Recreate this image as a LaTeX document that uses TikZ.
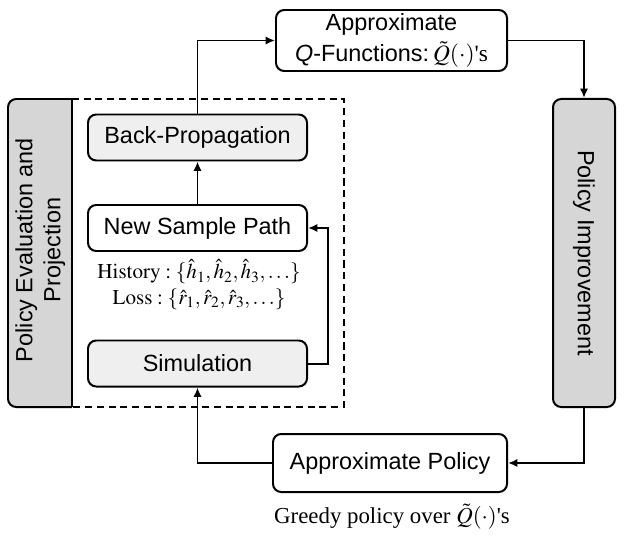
\documentclass[tikz,border=0pt]{standalone}
\usepackage{mathptmx}
\usepackage[no-math]{fontspec}
\setmainfont{Liberation Sans}
\newfontfamily\seriffont{Liberation Serif}
\usetikzlibrary{arrows.meta}
\definecolor{darkfill}{HTML}{D6D6D6}
\definecolor{lightfill}{HTML}{EFEFEF}

\begin{document}
\begin{tikzpicture}[x=0.03cm,y=-0.03cm,>={Latex[length=8pt,width=7pt]},
every node/.style={font=\fontsize{20}{27}\selectfont},
box/.style={draw,rounded corners=7pt,line width=1.7pt,inner sep=0pt,align=center},
lightbox/.style={box,fill=lightfill,minimum width=6.57cm,minimum height=1.38cm},
plainbox/.style={box,fill=white,minimum width=6.57cm,minimum height=1.38cm},
tallbox/.style={box,fill=darkfill,minimum width=1.86cm,minimum height=9.24cm},
note/.style={font=\seriffont\fontsize{18}{20}\selectfont},
line/.style={->,line width=1.7pt}]

\useasboundingbox (0,0) rectangle (624,536);

% outer loop
\node[box,minimum width=6.93cm,minimum height=1.83cm] (qfun) at (391.5,40.5)
  {Approximate\\{\itshape Q}-Functions:\,$\tilde{Q}(\cdot)$\seriffont's};
\node[tallbox] (improve) at (584,253) {\rotatebox{-90}{Policy Improvement}};
\node[box,minimum width=7.02cm,minimum height=1.74cm] (apol) at (390,463) {Approximate Policy};
\node[note,font=\seriffont\fontsize{19.5}{22}\selectfont] (greedy) at (392,517)
  {Greedy policy over $\tilde{Q}(\cdot)$'s};

% evaluation block
\filldraw[fill=darkfill,line width=1.7pt,rounded corners=7pt] (72,99) -- (8,99) -- (8,407) -- (72,407);
\draw[line width=1.7pt] (72,99) -- (72,407);
\draw[dash pattern=on 6pt off 4pt,line width=1.1pt] (72,99) -- (344,99) -- (344,407) -- (72,407);
\node (evaltxt) at (40,250)
  {\rotatebox{90}{\begin{tabular}{@{}c@{}}Policy Evaluation and\\[-3pt]Projection\end{tabular}}};

\node[lightbox] (backprop) at (197.5,137.5) {Back-Propagation};
\node[plainbox] (newpath) at (197.5,228) {New Sample Path};
\node[note] (history) at (199,272) {$\mathrm{History}:\{\hat{h}_1,\hat{h}_2,\hat{h}_3,\ldots\}$};
\node[note] (loss) at (199,299) {$\mathrm{Loss}:\{\hat{r}_1,\hat{r}_2,\hat{r}_3,\ldots\}$};
\node[lightbox] (sim) at (197.5,363.5) {Simulation};
\coordinate (turn) at (328,363.5);

\draw[line] (newpath) -- (backprop);
\draw[line] (sim.east) -- (turn) |- (newpath.east);
\draw[line] (backprop.north) |- (qfun.west);
\draw[line] (qfun.east) -| (improve.north);
\draw[line] (improve.south) |- (apol.east);
\draw[line] (apol.west) -| (sim.south);

\end{tikzpicture}
\end{document}
